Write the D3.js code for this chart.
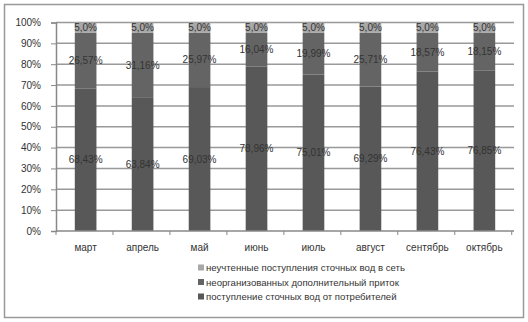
<!DOCTYPE html>
<html>
<head>
<meta charset="utf-8">
<script src="https://cdn.jsdelivr.net/npm/d3@7"></script>
<style>
  body { margin: 0; background: #fff; }
  text { font-family: "Liberation Sans", Arial, sans-serif; fill: #333; }
  .axis path, .axis line { stroke: #888; }
  .grid line { stroke: #999; }
</style>
</head>
<body>
<script>
// months
var months = ["март", "апрель", "май", "июнь", "июль", "август", "сентябрь", "октябрь"];
// series, % of total
var consumers = [68.43, 63.84, 69.03, 78.96, 75.01, 69.29, 76.43, 76.85];
var extraInflow = [26.57, 31.16, 25.97, 16.04, 19.99, 25.71, 18.57, 18.15];
var unaccounted = [5.0, 5.0, 5.0, 5.0, 5.0, 5.0, 5.0, 5.0];
var seriesNames = ["неучтенные поступления сточных вод в сеть",
                   "неорганизованных дополнительный приток",
                   "поступление сточных вод от потребителей"];
var yTicks = [0, 10, 20, 30, 40, 50, 60, 70, 80, 90, 100];

var W = 528, H = 322;
var margin = {left: 56, right: 14, top: 22.5, bottom: 91};
var width = W - margin.left - margin.right,
    height = H - margin.top - margin.bottom;

var svg = d3.select("body").append("svg")
    .attr("width", W)
    .attr("height", H);

// outer frame
svg.append("rect")
    .attr("x", 4.5).attr("y", 4.5)
    .attr("width", W - 9).attr("height", H - 9)
    .attr("fill", "#fff")
    .attr("stroke", "#999")
    .attr("stroke-width", 1.5);

var g = svg.append("g")
    .attr("transform", "translate(" + margin.left + "," + margin.top + ")");

var x = d3.scaleBand().domain(months).range([0, width]).paddingInner(0.62).paddingOuter(0.33);
var y = d3.scaleLinear().domain([0, 100]).range([height, 0]);

// gridlines
g.append("g").attr("class", "grid")
    .selectAll("line").data(yTicks.slice(1)).enter()
    .append("line")
    .attr("x1", 0).attr("x2", width)
    .attr("y1", function(d) { return y(d); })
    .attr("y2", function(d) { return y(d); })
    .attr("stroke-width", 1.5);

// stack data
var rows = months.map(function(m, i) {
  return {month: m, consumers: consumers[i], extra: extraInflow[i], unacc: unaccounted[i]};
});
var keys = ["consumers", "extra", "unacc"];
var colors = {consumers: "#585858", extra: "#646464", unacc: "#a8a8a8"};
var stack = d3.stack().keys(keys)(rows);

var layers = g.selectAll(".layer").data(stack).enter()
    .append("g").attr("class", "layer")
    .attr("fill", function(d) { return colors[d.key]; });

layers.selectAll("rect").data(function(d) { return d; }).enter()
    .append("rect")
    .attr("x", function(d) { return x(d.data.month); })
    .attr("width", x.bandwidth())
    .attr("y", function(d) { return y(d[1]); })
    .attr("height", function(d) { return y(d[0]) - y(d[1]); });

// data labels
var fmt = function(v, key) {
  return key == "unacc" ? v.toFixed(1).replace(".", ",") + "%" : v.toFixed(2).replace(".", ",") + "%";
};
stack.forEach(function(layer) {
  g.append("g").selectAll("text").data(layer).enter()
    .append("text")
    .attr("x", function(d) { return x(d.data.month) + x.bandwidth() / 2; })
    .attr("y", function(d) { return y((d[0] + d[1]) / 2); })
    .attr("dy", "0.35em")
    .attr("text-anchor", "middle")
    .attr("font-size", "10px")
    .text(function(d) { return fmt(d[1] - d[0], layer.key); });
});

// y axis
var yAxis = d3.axisLeft(y).tickValues(yTicks).tickSize(5).tickPadding(10)
    .tickFormat(function(d) { return d + "%"; });
g.append("g").attr("class", "y axis").call(yAxis)
    .call(function(s) { s.select(".domain").attr("stroke-width", 1.5); })
    .selectAll("text").attr("font-size", "10px");

// x axis with ticks at band edges
var xg = g.append("g").attr("class", "x axis")
    .attr("transform", "translate(0," + height + ")");
xg.append("line").attr("x1", 0).attr("x2", width).attr("stroke", "#888").attr("stroke-width", 1.5);
var step = x.step();
xg.selectAll(".tick").data(d3.range(months.length + 1)).enter()
    .append("line")
    .attr("x1", function(i) { return i * step; })
    .attr("x2", function(i) { return i * step; })
    .attr("y1", 0).attr("y2", 4)
    .attr("stroke", "#888");
xg.selectAll(".lbl").data(months).enter()
    .append("text")
    .attr("x", function(d) { return x(d) + x.bandwidth() / 2; })
    .attr("y", 20)
    .attr("text-anchor", "middle")
    .attr("font-size", "10px")
    .text(function(d) { return d; });

// legend
var legendColors = [colors.unacc, colors.extra, colors.consumers];
var legend = svg.append("g").attr("transform", "translate(198,268)");
var items = legend.selectAll(".item").data(seriesNames).enter()
    .append("g")
    .attr("transform", function(d, i) { return "translate(0," + i * 14.5 + ")"; });
items.append("rect")
    .attr("x", 0).attr("y", -3.5)
    .attr("width", 6).attr("height", 6)
    .attr("fill", function(d, i) { return legendColors[i]; });
items.append("text")
    .attr("x", 8).attr("y", 0)
    .attr("dy", "0.35em")
    .attr("font-size", "9.6px")
    .text(function(d) { return d; });
</script>
</body>
</html>
